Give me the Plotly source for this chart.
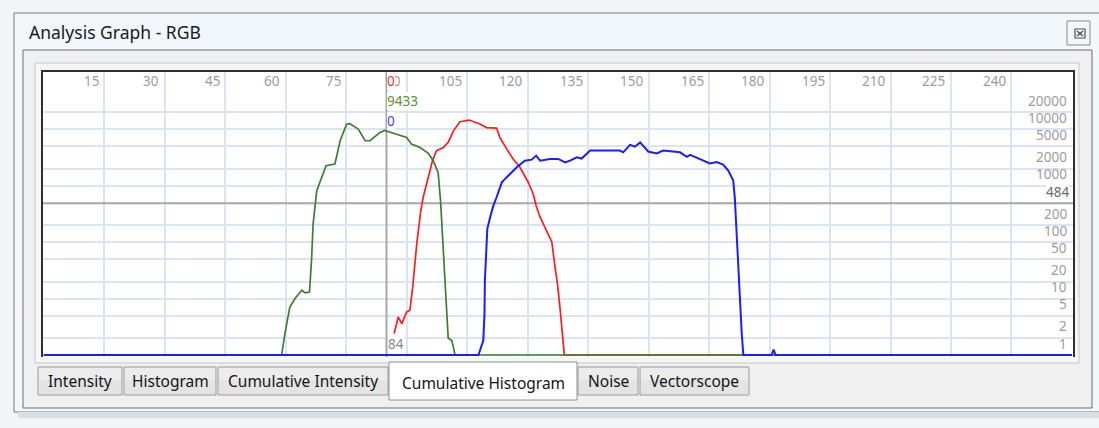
import numpy as np
import plotly.graph_objects as go

# ---------------- data ----------------
# values plotted on a log axis; 1 is the floor (empty bins)
x_tick_vals = [15, 30, 45, 60, 75, 90, 105, 120, 135, 150, 165, 180, 195, 210, 225, 240]
y_tick_vals = [1, 2, 5, 10, 20, 50, 100, 200, 1000, 2000, 5000, 10000, 20000]

cursor_x = 85
cursor_x_label = "84"
cursor_level = 484
cursor_red = "0"
cursor_green = "9433"
cursor_blue = "0"

green_x = [0, 59, 59.8, 61, 62.3, 64, 64.8, 65.9, 66.4, 66.8, 67.7, 68.9, 70, 72.2, 72.8, 73.5,
           75.1, 75.9, 78, 79.7, 80.9, 83.4, 84.5, 86.5, 87.5, 90, 91.2, 93.3, 95.4, 96.6, 97.8,
           98.4, 98.9, 99.5, 99.9, 100.3, 101.2, 102, 255]
green_y = [1, 1, 2.4, 7, 10, 14, 12.6, 13, 47, 210, 810, 1390, 2240, 2400, 3870, 6200,
           12200, 12500, 10000, 6200, 6200, 8700, 9433, 8700, 8100, 7100, 5400, 4700, 3700, 2750, 1700,
           540, 140, 27, 7, 2, 1.8, 1, 1]

red_x = [86.9, 87.9, 88.8, 90, 90.8, 91.5, 92.5, 93.5, 94.1, 95.4, 96.4, 97.4, 99.1, 100.3, 101.6,
         103.2, 105.5, 108.2, 109.8, 112.3, 113.1, 114.8, 116.4, 118.1, 120.2, 121.4, 122.1, 123.1,
         124.7, 126, 126.8, 127.4, 128, 128.7, 129.1, 255]
red_y = [2.4, 4.7, 3.6, 5.8, 6.2, 16, 93, 360, 620, 1390, 2750, 4150, 4700, 5800, 9300,
         13500, 14400, 12300, 10600, 10400, 7100, 4450, 2950, 2100, 1120, 700, 440, 275,
         160, 100, 36, 18, 7.1, 2.4, 1, 1]

blue_x = [0, 107.8, 109, 109.3, 109.4, 109.7, 110, 110.7, 111.5, 112.3, 113.6, 114.4, 115.6, 117.3,
          119.3, 121, 122.1, 123.1, 125.5, 127.6, 129.3, 130.5, 132.2, 133.4, 135.5, 142.9, 143.7,
          145.4, 146.6, 147.9, 149.9, 152, 153.6, 157.8, 159.5, 160.3, 163.6, 165.2, 166.9, 168.5,
          169.8, 171, 171.4, 171.8, 172.2, 172.6, 173.1, 173.5, 180.5, 181, 181.5, 255]
blue_y = [1, 1, 1.8, 5.4, 21, 71, 171, 275, 440, 620, 1140, 1310, 1590, 2100,
          2750, 2870, 3380, 2750, 2950, 2950, 2560, 2750, 3160, 3000, 4150, 4150, 3870,
          5250, 4870, 5800, 4000, 3700, 4150, 3870, 3230, 3500, 2750, 2460, 2600, 2340,
          1820, 1230, 580, 160, 41, 9.3, 2.4, 1, 1, 1.25, 1, 1]

window_title = "Analysis Graph - RGB"
tab_labels = ["Intensity", "Histogram", "Cumulative Intensity", "Cumulative Histogram", "Noise", "Vectorscope"]
selected_tab = "Cumulative Histogram"

# ---------------- layout geometry ----------------
W, H = 1099, 428
L, R, T, B = 42, 1074, 71, 357
tab_edges = [(38, 122), (124, 216), (218, 388), (389, 577), (578, 638), (640, 749)]


def px(x):
    return (x - L) / (R - L)


def py(y):
    return (B - y) / (B - T)


def rect(x0, y0, x1, y1, fill=None, line=None, lw=1, layer="below"):
    return dict(type="rect", xref="paper", yref="paper",
                x0=px(x0), x1=px(x1), y0=py(y1), y1=py(y0),
                fillcolor=fill if fill else "rgba(0,0,0,0)",
                line=dict(color=line if line else "rgba(0,0,0,0)", width=lw if line else 0),
                layer=layer)


def seg(x0, y0, x1, y1, color, lw=1, layer="above"):
    return dict(type="line", xref="paper", yref="paper",
                x0=px(x0), x1=px(x1), y0=py(y0), y1=py(y1),
                line=dict(color=color, width=lw), layer=layer)


UI_FONT = "Noto Sans"
NUM_FONT = "Noto Sans"

fig = go.Figure()

# cursor lines
fig.add_trace(go.Scatter(x=[cursor_x, cursor_x], y=[0.5, 1e7], mode="lines",
                         line=dict(color="#a8a8a8", width=2), hoverinfo="skip"))
fig.add_trace(go.Scatter(x=[-5, 300], y=[cursor_level, cursor_level], mode="lines",
                         line=dict(color="#a8a8a8", width=2), hoverinfo="skip"))
# channels
fig.add_trace(go.Scatter(x=red_x, y=red_y, mode="lines", line=dict(color="#ff1c1c", width=1.7),
                         hoverinfo="skip"))
fig.add_trace(go.Scatter(x=green_x, y=green_y, mode="lines", line=dict(color="#3f7d30", width=1.7),
                         hoverinfo="skip"))
fig.add_trace(go.Scatter(x=blue_x, y=blue_y, mode="lines", line=dict(color="#1c1cff", width=2),
                         hoverinfo="skip"))

shapes = []
# window chrome
shapes.append(rect(14, 13, 1106, 412, fill="#f1f7fb", line="#7b7b7b"))
shapes.append(rect(18, 412, 1106, 418, fill="#dcdfe2"))
shapes.append(rect(23, 50, 1092, 408, fill="#f0f0f0", line="#6f6f6f"))
shapes.append(rect(35, 63, 1079, 363, fill="#f6f6f6", line="#c6c6c6"))
shapes.append(rect(L, T, R, B, fill="#ffffff"))
# close button
shapes.append(rect(1067, 21, 1090, 45, fill="#f4f6f8", line="#8a8a8a", layer="above"))
shapes.append(rect(1075, 29, 1085, 38, line="#4d4d5a", lw=1.2, layer="above"))
shapes.append(seg(1077, 31, 1083, 36, "#4d4d5a", 1.5))
shapes.append(seg(1077, 36, 1083, 31, "#4d4d5a", 1.5))
# plot border (left, top, right)
shapes.append(dict(type="path", xref="paper", yref="paper",
                   path=f"M {px(L)} {py(B)} L {px(L)} {py(T)} L {px(R)} {py(T)} L {px(R)} {py(B)}",
                   line=dict(color="#2f2f2f", width=2), layer="above"))
# tabs
for lab, (a, b) in zip(tab_labels, tab_edges):
    if lab == selected_tab:
        shapes.append(rect(a, 362, b, 400, fill="#ffffff", line="#8e8e8e", layer="above"))
    else:
        shapes.append(rect(a, 367, b, 395, fill="#e4e4e4", line="#9d9d9d", layer="above"))
        shapes.append(rect(a + 1, 368, b - 1, 380, fill="#ececec", layer="above"))

annotations = []
# x tick labels
for v in x_tick_vals:
    annotations.append(dict(x=v, xref="x", y=1, yref="paper", text=str(v), showarrow=False,
                            xanchor="right", yanchor="middle", xshift=-3.5, yshift=-10,
                            font=dict(family=NUM_FONT, size=13.5, color="#9c9c9c")))
# y tick labels
for v in y_tick_vals:
    annotations.append(dict(x=1, xref="paper", y=np.log10(v), yref="y", text=str(v), showarrow=False,
                            xanchor="right", yanchor="middle", xshift=-5, yshift=11.5,
                            font=dict(family=NUM_FONT, size=13.5, color="#9c9c9c")))
# cursor labels
annotations.append(dict(x=1, xref="paper", y=np.log10(cursor_level), yref="y", text=str(cursor_level),
                        showarrow=False, xanchor="right", yanchor="middle", xshift=-5, yshift=11.5,
                        bgcolor="#ffffff", borderpad=0, borderwidth=0,
                        font=dict(family=NUM_FONT, size=13.5, color="#6a6a6a")))
annotations.append(dict(x=cursor_x, xref="x", y=0, yref="paper", text=cursor_x_label, showarrow=False,
                        xanchor="left", yanchor="middle", xshift=1, yshift=13, bgcolor="#ffffff",
                        borderpad=0, borderwidth=0,
                        font=dict(family=NUM_FONT, size=13.5, color="#8a8a8a")))
for txt, col, ys in [(cursor_red, "#ff2a2a", -10), (cursor_green, "#5a8f34", -30), (cursor_blue, "#4a3cff", -50)]:
    annotations.append(dict(x=cursor_x, xref="x", y=1, yref="paper", text=txt, showarrow=False,
                            xanchor="left", yanchor="middle", xshift=0.5, yshift=ys, bgcolor="#ffffff",
                            borderpad=0, borderwidth=0,
                            font=dict(family=NUM_FONT, size=13.5, color=col)))
# window title
annotations.append(dict(x=px(27), y=py(32), xref="paper", yref="paper", text=window_title,
                        showarrow=False, xanchor="left", yanchor="middle",
                        font=dict(family=UI_FONT, size=17.5, color="#1b1b1b")))
# tab labels
for lab, (a, b) in zip(tab_labels, tab_edges):
    cy = 383 if lab == selected_tab else 381
    annotations.append(dict(x=px((a + b) / 2), y=py(cy), xref="paper", yref="paper", text=lab,
                            showarrow=False, xanchor="center", yanchor="middle",
                            font=dict(family=UI_FONT, size=15.5, color="#151515")))

fig.update_layout(
    width=W, height=H,
    margin=dict(l=L, r=W - R, t=T, b=H - B, pad=0),
    paper_bgcolor="#f3f6f9", plot_bgcolor="#ffffff",
    showlegend=False,
    shapes=shapes, annotations=annotations,
    xaxis=dict(range=[-0.446, 255.51], tickvals=x_tick_vals, showticklabels=False, ticks="",
               showgrid=True, gridcolor="#d9e5f2", gridwidth=2, zeroline=False, showline=False,
               fixedrange=True),
    yaxis=dict(type="log", range=[-0.0354, 5.027], tickvals=y_tick_vals, showticklabels=False,
               ticks="", showgrid=True, gridcolor="#d9e5f2", gridwidth=2, zeroline=False,
               showline=False, fixedrange=True),
)

fig.write_html("out.html")
